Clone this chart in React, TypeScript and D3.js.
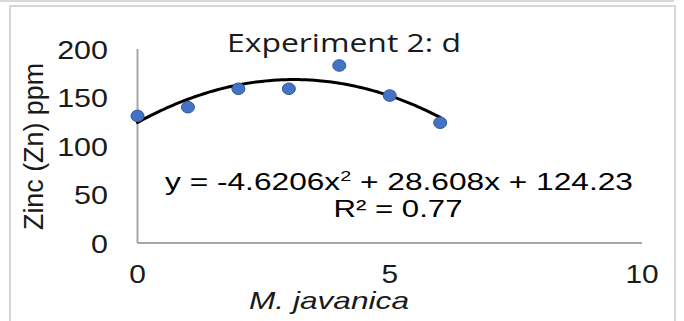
import React from "react";
import * as d3 from "d3";

const xValues = [0, 1, 2, 3, 4, 5, 6];
const zincValues = [131, 140, 159, 159, 183, 152, 124];
const yTicks = [0, 50, 100, 150, 200];
const xTicks = [0, 5, 10];
const trendCoef = [-4.6206, 28.608, 124.23];
const titleText = "Experiment 2: d";
const yTitle = "Zinc (Zn) ppm";
const xTitle = "M. javanica";

const W = 684;
const H = 321;
const SX = 1.15;

export default function App() {
  const x = d3.scaleLinear().domain([0, 10]).range([137.5, 642]);
  const y = d3.scaleLinear().domain([0, 200]).range([243, 49]);

  const trendX = d3.range(0, 6.001, 0.05);
  const line = d3
    .line<number>()
    .x((d) => x(d))
    .y((d) => y(trendCoef[0] * d * d + trendCoef[1] * d + trendCoef[2]))
    .curve(d3.curveLinear);

  const font = "'Liberation Sans', Arial, sans-serif";

  return (
    <svg
      width={W}
      height={H}
      style={{ position: "fixed", left: 0, top: 0, background: "#fff" }}
    >
      <rect x={0} y={0} width={W} height={H} fill="#fff" />
      {/* outer frames */}
      <line x1={0} y1={1} x2={674} y2={1} stroke="#d9d9d9" strokeWidth={2} />
      <path d={`M10,${H + 2} V6 H675 V${H + 2}`} fill="none" stroke="#d6d6d6" strokeWidth={2} />

      {/* axes */}
      <line x1={x(0)} y1={y(200)} x2={x(0)} y2={y(0)} stroke="#a6a6a6" strokeWidth={2} />
      <line x1={x(0)} y1={y(0)} x2={x(10)} y2={y(0)} stroke="#a6a6a6" strokeWidth={2} />

      {/* y ticks */}
      {yTicks.map((t) => (
        <g key={"y" + t} transform={`translate(108,${y(t)}) scale(${SX},1)`}>
          <text textAnchor="end" dy="0.36em" fontFamily={font} fontSize={26.5} fill="#1a1a1a">
            {t}
          </text>
        </g>
      ))}

      {/* x ticks */}
      {xTicks.map((t) => (
        <g key={"x" + t} transform={`translate(${x(t)},283) scale(${SX},1)`}>
          <text textAnchor="middle" fontFamily={font} fontSize={26} fill="#1a1a1a">
            {t}
          </text>
        </g>
      ))}

      {/* axis titles */}
      <text
        transform="translate(43,146.5) rotate(-90)"
        textAnchor="middle"
        fontFamily={font}
        fontSize={27}
        fill="#1a1a1a"
        textLength={167}
        lengthAdjust="spacingAndGlyphs"
      >
        {yTitle}
      </text>
      <text
        x={329}
        y={309}
        textAnchor="middle"
        fontFamily={font}
        fontSize={24}
        fontStyle="italic"
        fill="#1a1a1a"
        textLength={160}
        lengthAdjust="spacingAndGlyphs"
      >
        {xTitle}
      </text>

      {/* title */}
      <text
        x={344}
        y={52}
        textAnchor="middle"
        fontFamily="'Open Sans', 'Noto Sans', sans-serif"
        fontSize={25}
        fill="#1a1a1a"
        textLength={234}
        lengthAdjust="spacingAndGlyphs"
      >
        {titleText}
      </text>

      {/* trendline */}
      <path d={line(trendX) || ""} fill="none" stroke="#000" strokeWidth={3} strokeLinecap="round" />

      {/* points */}
      {xValues.map((xv, i) => (
        <ellipse
          key={"p" + i}
          cx={x(xv)}
          cy={y(zincValues[i])}
          rx={6.5}
          ry={5.8}
          fill="#4472c4"
          stroke="#2f5597"
          strokeWidth={1}
        />
      ))}

      {/* equation */}
      <text
        x={399}
        y={190}
        textAnchor="middle"
        fontFamily={font}
        fontSize={24}
        fill="#000"
        textLength={468}
        lengthAdjust="spacingAndGlyphs"
      >
        y = -4.6206x
        <tspan fontSize={15} dy={-9}>2</tspan>
        <tspan dy={9}> + 28.608x + 124.23</tspan>
      </text>
      <text
        x={398}
        y={217}
        textAnchor="middle"
        fontFamily={font}
        fontSize={24}
        fill="#000"
        textLength={129}
        lengthAdjust="spacingAndGlyphs"
      >
        R² = 0.77
      </text>
    </svg>
  );
}
